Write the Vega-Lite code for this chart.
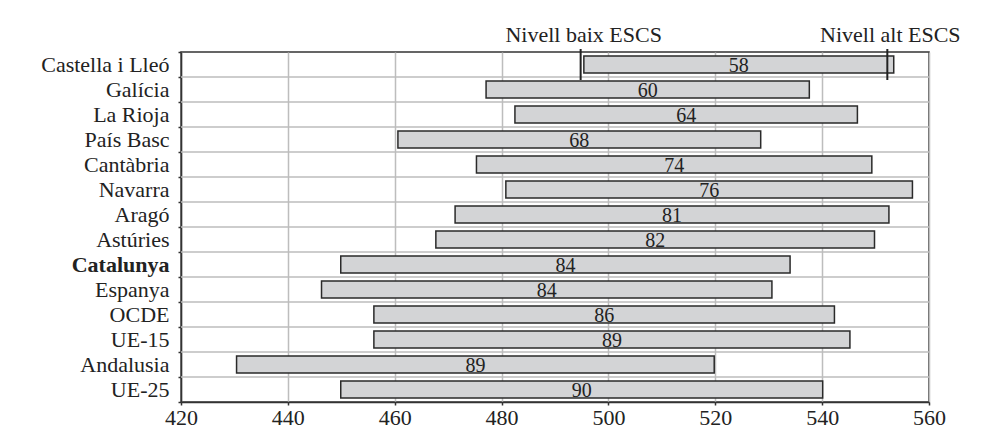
{
  "$schema": "https://vega.github.io/schema/vega-lite/v6.json",
  "width": 748,
  "height": 350,
  "autosize": "none",
  "padding": {"left": 181, "top": 52, "right": 55, "bottom": 35},
  "background": "white",
  "config": {
    "font": "Liberation Serif",
    "view": {"stroke": "#333333", "strokeWidth": 1.5}
  },
  "data": {
    "values": [
      {"country": "Castella i Lleó", "lo": 495.4, "hi": 553.4, "diff": 58},
      {"country": "Galícia", "lo": 477.1, "hi": 537.6, "diff": 60},
      {"country": "La Rioja", "lo": 482.5, "hi": 546.6, "diff": 64},
      {"country": "País Basc", "lo": 460.6, "hi": 528.5, "diff": 68},
      {"country": "Cantàbria", "lo": 475.3, "hi": 549.3, "diff": 74},
      {"country": "Navarra", "lo": 480.8, "hi": 556.9, "diff": 76},
      {"country": "Aragó", "lo": 471.3, "hi": 552.5, "diff": 81},
      {"country": "Astúries", "lo": 467.7, "hi": 549.8, "diff": 82},
      {"country": "Catalunya", "lo": 449.9, "hi": 534.0, "diff": 84},
      {"country": "Espanya", "lo": 446.3, "hi": 530.6, "diff": 84},
      {"country": "OCDE", "lo": 456.1, "hi": 542.3, "diff": 86},
      {"country": "UE-15", "lo": 456.1, "hi": 545.2, "diff": 89},
      {"country": "Andalusia", "lo": 430.4, "hi": 519.8, "diff": 89},
      {"country": "UE-25", "lo": 449.9, "hi": 540.1, "diff": 90}
    ]
  },
  "encoding": {
    "y": {
      "field": "country",
      "type": "nominal",
      "scale": {
        "domain": ["Castella i Lleó", "Galícia", "La Rioja", "País Basc", "Cantàbria", "Navarra", "Aragó", "Astúries", "Catalunya", "Espanya", "OCDE", "UE-15", "Andalusia", "UE-25"],
        "paddingInner": 0,
        "paddingOuter": 0
      },
      "axis": {
        "title": null,
        "domainColor": "#333333",
        "domainWidth": 1.5,
        "tickColor": "#333333",
        "tickWidth": 1.5,
        "tickSize": 3,
        "tickBand": "extent",
        "grid": false,
        "labelFont": "Liberation Serif",
        "labelFontSize": 22,
        "labelColor": "#222222",
        "labelPadding": 9,
        "labelFontWeight": {"condition": {"test": "datum.value === 'Catalunya'", "value": "bold"}, "value": "normal"}
      }
    }
  },
  "layer": [
    {
      "transform": [{"filter": "datum.country !== 'UE-25'"}],
      "mark": {"type": "rule", "color": "#bdbdbd", "strokeWidth": 1.5},
      "encoding": {
        "y": {"field": "country", "type": "nominal", "bandPosition": 1}
      }
    },
    {
      "mark": {"type": "bar", "fill": "#d3d4d6", "stroke": "#2a2a2a", "strokeWidth": 1.5, "height": {"band": 0.68}},
      "encoding": {
        "x": {
          "field": "lo",
          "type": "quantitative",
          "scale": {"domain": [420, 560], "nice": false, "zero": false},
          "axis": {
            "title": null,
            "values": [420, 440, 460, 480, 500, 520, 540, 560],
            "domainColor": "#333333",
            "domainWidth": 1.5,
            "tickColor": "#333333",
            "tickWidth": 1.5,
            "tickSize": 3,
            "grid": true,
            "gridColor": "#bdbdbd",
            "gridWidth": 1.5,
            "labelFlush": false,
            "labelFont": "Liberation Serif",
            "labelFontSize": 22,
            "labelColor": "#222222",
            "labelPadding": 2
          }
        },
        "x2": {"field": "hi"}
      }
    },
    {
      "transform": [
        {"fold": ["lo", "hi"]},
        {"aggregate": [{"op": "mean", "field": "value", "as": "mid"}], "groupby": ["country", "diff"]}
      ],
      "mark": {"type": "text", "font": "Liberation Serif", "fontSize": 20, "color": "#222222", "baseline": "middle", "align": "center", "dy": 1},
      "encoding": {
        "x": {"field": "mid", "type": "quantitative"},
        "text": {"field": "diff", "type": "quantitative"}
      }
    },
    {
      "data": {"values": [
        {"country": "Castella i Lleó", "value": 494.8, "label": "Nivell baix ESCS"},
        {"country": "Castella i Lleó", "value": 552.2, "label": "Nivell alt ESCS"}
      ]},
      "mark": {"type": "tick", "orient": "vertical", "size": 31, "thickness": 2, "color": "#222222", "opacity": 1},
      "encoding": {
        "x": {"field": "value", "type": "quantitative"}
      }
    },
    {
      "data": {"values": [
        {"country": "Castella i Lleó", "value": 494.8, "label": "Nivell baix ESCS"},
        {"country": "Castella i Lleó", "value": 552.2, "label": "Nivell alt ESCS"}
      ]},
      "mark": {"type": "text", "font": "Liberation Serif", "fontSize": 22, "color": "#222222", "baseline": "middle", "align": "center", "dy": -30, "dx": 3},
      "encoding": {
        "x": {"field": "value", "type": "quantitative"},
        "text": {"field": "label"}
      }
    }
  ]
}
